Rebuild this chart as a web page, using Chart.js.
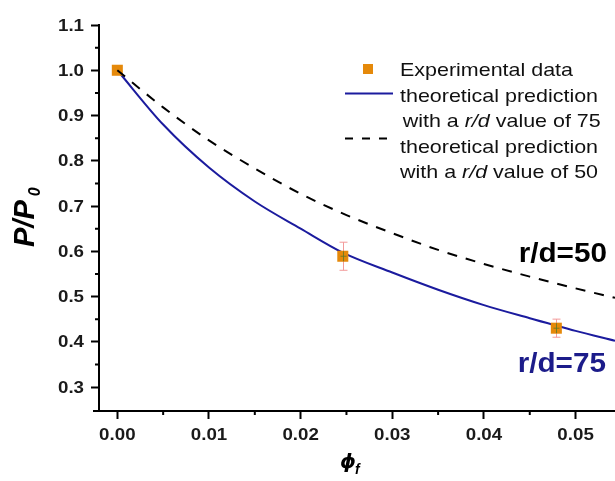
<!DOCTYPE html>
<html><head><meta charset="utf-8">
<script src="https://cdn.jsdelivr.net/npm/chart.js@4.4.1/dist/chart.umd.min.js"></script>
<style>html,body{margin:0;padding:0;background:#fff;overflow:hidden;} canvas{display:block;}</style>
</head><body><canvas id="c" width="615" height="481" style="width:615px;height:481px"></canvas>
<script>
// ---- data ----
const expPhi = [0.0, 0.0246, 0.0479];
const expP = [1.0, 0.589, 0.430];
const expErr = [0.0, 0.031, 0.020];

const phi75 = [0, 0.005, 0.01, 0.015, 0.02, 0.0246, 0.03, 0.035, 0.04, 0.045, 0.05, 0.0543];
const fit75 = [1.000, 0.880, 0.785, 0.710, 0.650, 0.597, 0.553, 0.515, 0.481, 0.452, 0.424, 0.402];

const phi50 = [0, 0.005, 0.01, 0.015, 0.02, 0.025, 0.03, 0.035, 0.04, 0.045, 0.05, 0.0543];
const fit50 = [1.000, 0.918, 0.845, 0.783, 0.727, 0.680, 0.640, 0.603, 0.572, 0.544, 0.518, 0.497];

const xMajorTicks = [0, 0.01, 0.02, 0.03, 0.04, 0.05];
const xTickLabels = ['0.00', '0.01', '0.02', '0.03', '0.04', '0.05'];
const xMinorTicks = [0.005, 0.015, 0.025, 0.035, 0.045];
const yMajorTicks = [0.3, 0.4, 0.5, 0.6, 0.7, 0.8, 0.9, 1.0, 1.1];
const yTickLabels = ['0.3', '0.4', '0.5', '0.6', '0.7', '0.8', '0.9', '1.0', '1.1'];
const yMinorTicks = [0.35, 0.45, 0.55, 0.65, 0.75, 0.85, 0.95, 1.05];

const legendExp = 'Experimental data';
const legend75 = [[{t: 'theoretical prediction'}], [{t: 'with a '}, {t: 'r/d', i: true}, {t: ' value of 75'}]];
const legend50 = [[{t: 'theoretical prediction'}], [{t: 'with a '}, {t: 'r/d', i: true}, {t: ' value of 50'}]];
const label50 = 'r/d=50';
const label75 = 'r/d=75';

const ORANGE = '#e5890a';
const BLUE = '#1b1b9e';
const FONT = "'Liberation Sans', Arial, sans-serif";

function stretchText(ctx, text, x, y, sx, align) {
  ctx.save(); ctx.translate(x, y); ctx.scale(sx, 1);
  ctx.textAlign = align || 'left'; ctx.textBaseline = 'alphabetic';
  ctx.fillText(text, 0, 0); ctx.restore();
}
function richText(ctx, segs, x, y, size, sx) {
  ctx.save(); ctx.translate(x, y); ctx.scale(sx, 1);
  ctx.textAlign = 'left'; ctx.textBaseline = 'alphabetic';
  let cx = 0;
  segs.forEach(s => {
    ctx.font = (s.i ? 'italic ' : '') + size + 'px ' + FONT;
    ctx.fillText(s.t, cx, 0);
    cx += ctx.measureText(s.t).width;
  });
  ctx.restore();
}

const decor = {
  id: 'decor',
  beforeDatasetsDraw(chart) {
    const {ctx, scales: {x, y}} = chart;
    ctx.save();
    ctx.strokeStyle = '#f39a9a'; ctx.lineWidth = 1;
    expPhi.forEach((p, i) => {
      if (!expErr[i]) return;
      const px = Math.round(x.getPixelForValue(p)) + 0.5;
      const top = y.getPixelForValue(expP[i] + expErr[i]);
      const bot = y.getPixelForValue(expP[i] - expErr[i]);
      ctx.beginPath();
      ctx.moveTo(px, top); ctx.lineTo(px, bot);
      ctx.moveTo(px - 4, top); ctx.lineTo(px + 4, top);
      ctx.moveTo(px - 4, bot); ctx.lineTo(px + 4, bot);
      ctx.stroke();
    });
    ctx.restore();
  },
  afterDatasetDraw(chart, args) {
    if (args.index !== 1) return;
    const {ctx, scales: {x, y}} = chart;
    ctx.save();
    ctx.strokeStyle = 'rgba(90,120,40,0.8)'; ctx.lineWidth = 1;
    expPhi.forEach((p, i) => {
      if (!expErr[i]) return;
      const px = Math.round(x.getPixelForValue(p)) + 0.5;
      const py = y.getPixelForValue(expP[i]);
      ctx.beginPath();
      ctx.moveTo(px, py - 5); ctx.lineTo(px, py + 5);
      ctx.moveTo(px - 3, py); ctx.lineTo(px + 3, py);
      ctx.stroke();
    });
    ctx.restore();
  },
  afterDraw(chart) {
    const {ctx, scales: {x, y}, chartArea: ca} = chart;
    ctx.save();
    // axis extension and minor ticks
    ctx.strokeStyle = '#000'; ctx.lineWidth = 2;
    ctx.beginPath(); ctx.moveTo(93, ca.bottom); ctx.lineTo(ca.left, ca.bottom); ctx.stroke();
    ctx.beginPath();
    xMinorTicks.forEach(v => { const px = x.getPixelForValue(v); ctx.moveTo(px, ca.bottom); ctx.lineTo(px, ca.bottom + 4); });
    yMinorTicks.forEach(v => { const py = y.getPixelForValue(v); ctx.moveTo(ca.left, py); ctx.lineTo(ca.left - 4, py); });
    ctx.stroke();
    // tick labels
    ctx.fillStyle = '#1a1a1a';
    ctx.font = 'bold 16px ' + FONT;
    xMajorTicks.forEach((v, i) => stretchText(ctx, xTickLabels[i], x.getPixelForValue(v), 439.5, 1.17, 'center'));
    yMajorTicks.forEach((v, i) => stretchText(ctx, yTickLabels[i], 84, y.getPixelForValue(v) + 5.7, 1.17, 'right'));
    // axis titles
    ctx.fillStyle = '#000';
    ctx.save();
    ctx.translate(33.5, 247); ctx.rotate(-Math.PI / 2);
    ctx.font = 'bold italic 29px ' + FONT; ctx.textAlign = 'left';
    ctx.fillText('P/P', 0, 0);
    const w = ctx.measureText('P/P').width;
    ctx.font = 'bold italic 16px ' + FONT;
    ctx.fillText('0', w + 4, 6);
    ctx.restore();
    ctx.font = "bold italic 20px 'DejaVu Sans', " + FONT; ctx.textAlign = 'left';
    ctx.fillText('\u03D5', 340, 468);
    ctx.font = 'bold italic 14px ' + FONT;
    ctx.fillText('f', 355, 474);
    // curve annotations
    ctx.font = 'bold 27px ' + FONT;
    ctx.fillStyle = '#000';
    stretchText(ctx, label50, 607, 262, 1.1, 'right');
    ctx.fillStyle = '#1c1c8a';
    stretchText(ctx, label75, 606, 372, 1.1, 'right');
    // legend
    ctx.fillStyle = ORANGE;
    ctx.fillRect(363, 64, 10, 10);
    ctx.strokeStyle = BLUE; ctx.lineWidth = 2;
    ctx.beginPath(); ctx.moveTo(345, 93.5); ctx.lineTo(393, 93.5); ctx.stroke();
    ctx.strokeStyle = '#000'; ctx.setLineDash([8, 9]);
    ctx.beginPath(); ctx.moveTo(345, 138.5); ctx.lineTo(393, 138.5); ctx.stroke();
    ctx.setLineDash([]);
    ctx.fillStyle = '#111';
    const LS = 18.5, SX = 1.16;
    richText(ctx, [{t: legendExp}], 400, 76, LS, SX);
    richText(ctx, legend75[0], 400, 101.7, LS, SX);
    richText(ctx, legend75[1], 402.7, 127.3, LS, SX);
    richText(ctx, legend50[0], 400, 152.7, LS, SX);
    richText(ctx, legend50[1], 400, 178.3, LS, SX);
    ctx.restore();
  }
};

const axisCommon = {
  type: 'linear',
  ticks: {display: false},
  grid: {display: true, drawOnChartArea: false, drawTicks: true, tickLength: 8, tickWidth: 2, tickColor: '#000'},
  border: {display: true, color: '#000', width: 2}
};

new Chart(document.getElementById('c'), {
  type: 'scatter',
  data: {
    datasets: [
      {label: 'r/d 50', type: 'line', data: phi50.map((p, i) => ({x: p, y: fit50[i]})),
       borderColor: '#000', borderWidth: 2, borderDash: [10, 9], pointRadius: 0, fill: false,
       cubicInterpolationMode: 'monotone'},
      {label: legendExp, data: expPhi.map((p, i) => ({x: p, y: expP[i]})),
       pointStyle: 'rect', pointRadius: 7.8, backgroundColor: ORANGE, borderColor: ORANGE, borderWidth: 0, showLine: false},
      {label: 'r/d 75', type: 'line', data: phi75.map((p, i) => ({x: p, y: fit75[i]})),
       borderColor: BLUE, borderWidth: 2, pointRadius: 0, fill: false, cubicInterpolationMode: 'monotone'}
    ]
  },
  options: {
    responsive: false, devicePixelRatio: 1, animation: false, events: [],
    layout: {autoPadding: false, padding: {left: 91, right: 0, top: 25, bottom: 62}},
    plugins: {legend: {display: false}, tooltip: {enabled: false}},
    scales: {
      x: Object.assign({}, axisCommon, {min: -0.002, max: 0.0543,
        afterBuildTicks: s => { s.ticks = xMajorTicks.map(v => ({value: v})); }}),
      y: Object.assign({}, axisCommon, {min: 0.247, max: 1.1,
        afterBuildTicks: s => { s.ticks = yMajorTicks.map(v => ({value: v})); }})
    }
  },
  plugins: [decor]
});
</script>
</body></html>
